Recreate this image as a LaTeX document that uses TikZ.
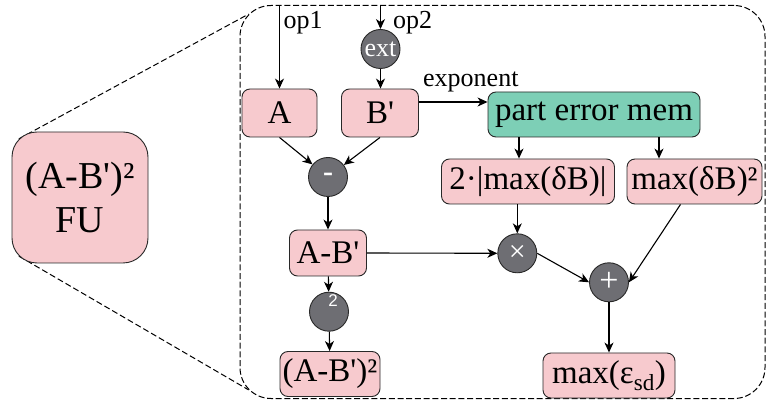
\documentclass[tikz,border=0pt]{standalone}
\usepackage{fontspec}
\setmainfont{Liberation Serif}
\newfontfamily\opsans{Liberation Sans}
\usetikzlibrary{arrows.meta,backgrounds,calc}
\definecolor{boxpink}{RGB}{247,202,206}
\definecolor{memgreen}{RGB}{125,207,182}
\definecolor{opgray}{RGB}{110,110,115}
\definecolor{edgegray}{RGB}{40,40,40}
% straight apostrophe, bypassing the TeX quote mapping
\newcommand\sq{\XeTeXglyph\XeTeXcharglyph"27\relax}
\begin{document}
\begin{tikzpicture}[x=1pt,y=-1pt,
  every node/.style={inner sep=0pt},
  box/.style={draw=edgegray, line width=0.9pt, fill=boxpink, rounded corners=8pt,
    minimum height=45pt, font=\fontsize{33}{36}\selectfont},
  opnode/.style={circle, draw=edgegray, line width=0.9pt, fill=opgray, minimum size=39pt,
    text=white, font=\fontsize{26}{28}\selectfont},
  lab/.style={font=\fontsize{26}{28}\selectfont},
  arr/.style={line width=1.1pt, -{Stealth[length=10pt,width=9pt,inset=3pt]}},
  zoomline/.style={line width=1pt, dash pattern=on 6pt off 3pt},
  framebox/.style={draw=black, line width=1pt, dash pattern=on 6pt off 2.7pt,
    rounded corners=31pt}]
\useasboundingbox (0,0) rectangle (766,403);

% enclosing frame of the unit's internals
\node[framebox, minimum width=525pt, minimum height=393pt] (frame) at (502.5,202) {};

% the functional unit itself
\node[box, rounded corners=25pt, minimum width=136pt, minimum height=131pt, align=center,
  font=\fontsize{38}{44}\selectfont] (fu) at (80,197.5) {(A-B\sq)²\\FU};

\coordinate (fu-nw) at ($(fu.north west)+(7.3,7.3)$);
\coordinate (fu-sw) at ($(fu.south west)+(7.3,-7.3)$);
\coordinate (fr-nw) at ($(frame.north west)+(9.1,9.1)$);
\coordinate (fr-sw) at ($(frame.south west)+(9.1,-9.1)$);
\begin{pgfonlayer}{background}
  \draw[zoomline] (fu-nw) -- (fr-nw);
  \draw[zoomline] (fu-sw) -- (fr-sw);
\end{pgfonlayer}

% operands
\node[box, minimum width=75pt, minimum height=48pt] (A) at (279.5,113) {A};
\node[box, minimum width=77pt, minimum height=48pt] (Bp) at (380,113) {B\sq};
\node[opnode] (ext) at (380.5,49) {ext};
\coordinate (op1-in) at (279.5,6);
\coordinate (op2-in) at (380.5,6);

% error memory and its outputs
\node[box, fill=memgreen, minimum width=212pt] (pem) at (594,114.5) {part error mem};
\node[box, minimum width=173pt] (dB2) at (528,181.5) {2·|max(δB)|};
\node[box, minimum width=135pt] (dBsq) at (694.5,181.5) {max(δB)²};

% difference and square
\node[opnode, font=\fontsize{30}{32}\selectfont\bfseries] (minus) at (328,177) {-};
\node[box, minimum width=77pt, minimum height=46pt] (AB) at (328,253) {A-B\sq};
\node[opnode, label={[text=white, font=\opsans\fontsize{17}{18}\selectfont,
  xshift=4pt, yshift=11pt]center:2}] (sqr) at (329,311.7) {};
\node[box, minimum width=100pt] (ABsq) at (330,374) {(A-B\sq)²};

% error bound
\node[opnode, font=\fontsize{30}{32}\selectfont] (times) at (517.3,253.3) {×};
\node[opnode, font=\fontsize{34}{36}\selectfont] (plus) at (609,282.3) {+};
\node[box, minimum width=132pt] (eps) at (609,375.5) {max(ε\textsubscript{sd})};

% connectors
\draw[arr] (op1-in) -- (A.north);
\node[lab, anchor=base west] (op1) at (283.5,28.5) {op1};
\draw[arr] (op2-in) -- (ext.north);
\node[lab, anchor=base west] (op2) at (393,28.5) {op2};
\draw[arr] (ext) -- (ext |- Bp.north);
\draw[arr] ([yshift=11pt]Bp.east) -- ([yshift=11pt]Bp.east -| pem.west);
\node[lab, anchor=base west] (expo) at (423,87) {exponent};

\draw[arr] ([xshift=-9pt]dB2.north |- pem.south) -- ([xshift=-9pt]dB2.north);
\draw[arr] ([xshift=-35.5pt]dBsq.north |- pem.south) -- ([xshift=-35.5pt]dBsq.north);

\draw[arr] (A.south) -- (minus);
\draw[arr] (Bp.south) -- (minus);
\draw[arr] (minus) -- (AB);
\draw[arr] (AB) -- (sqr);
\draw[arr] (sqr) -- (ABsq);

\draw[arr] (AB.east) -- (times.west);
\draw[arr] (times |- dB2.south) -- (times);
\draw[arr] (times.east) -- (plus.west);
\draw[arr] ([xshift=-14pt]dBsq.south) -- (plus.east);
\draw[arr] (plus) -- (eps);
\end{tikzpicture}
\end{document}
